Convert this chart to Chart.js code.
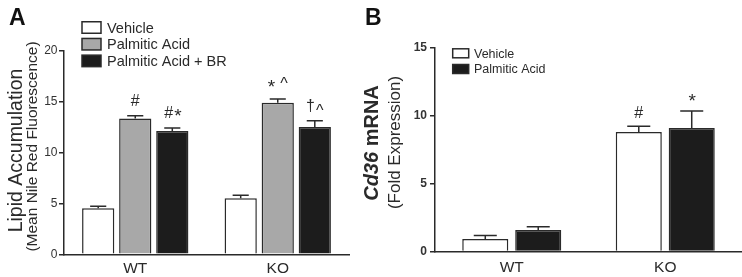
<!DOCTYPE html>
<html><head><meta charset="utf-8">
<script src="https://cdn.jsdelivr.net/npm/chart.js@4/dist/chart.umd.min.js"></script>
<style>
html,body{margin:0;padding:0;background:#fff;}
#wrap{position:relative;width:742px;height:277px;overflow:hidden;background:#fff;}
.box{position:absolute;top:0;}
canvas{display:block;}
</style></head><body>
<div id="wrap">
  <div class="box" style="left:0;width:355px;height:277px"><canvas id="ca" width="355" height="277"></canvas></div>
  <div class="box" style="left:355px;width:387px;height:277px"><canvas id="cb" width="387" height="277"></canvas></div>
</div>
<script>
// ---------- DATA ----------
const categories = ['WT', 'KO'];

// Panel A: Lipid accumulation
const seriesA = ['Vehicle', 'Palmitic Acid', 'Palmitic Acid + BR'];
const vehicleA = [4.52, 5.5];
const vehicleAErr = [0.2, 0.3];
const palmiticA = [13.35, 14.88];
const palmiticAErr = [0.25, 0.37];
const palmiticBRA = [12.1, 12.5];
const palmiticBRAErr = [0.3, 0.62];
const vehicleAMarks = ['', ''];
const palmiticAMarks = ['#', '* ^'];
const palmiticBRAMarks = ['#*', '†^'];
const ticksA = [0, 5, 10, 15, 20];

// Panel B: Cd36 mRNA
const seriesB = ['Vehicle', 'Palmitic Acid'];
const vehicleB = [0.93, 8.8];
const vehicleBErr = [0.25, 0.42];
const palmiticB = [1.58, 9.1];
const palmiticBErr = [0.25, 1.25];
const vehicleBMarks = ['', '#'];
const palmiticBMarks = ['', '*'];
const ticksB = [0, 5, 10, 15];

// ---------- STYLE ----------
const FONT = '"Liberation Sans", Arial, Helvetica, sans-serif';
const INK = '#2a2a2a';
const WHITE = '#ffffff', GRAY = '#a8a8a8', BLACK = '#1c1c1c';

// error bars + significance marks
const errorPlugin = {
  id: 'errorBars',
  afterDatasetsDraw(chart) {
    const ctx = chart.ctx, ys = chart.scales.y;
    chart.data.datasets.forEach((ds, i) => {
      const meta = chart.getDatasetMeta(i);
      meta.data.forEach((bar, j) => {
        const top = ys.getPixelForValue(ds.data[j] + ds.errors[j]);
        const capW = bar.width * 0.5;
        ctx.save();
        ctx.strokeStyle = INK; ctx.lineWidth = 1.5;
        ctx.beginPath();
        ctx.moveTo(bar.x, bar.y); ctx.lineTo(bar.x, top);
        ctx.moveTo(bar.x - capW / 2, top); ctx.lineTo(bar.x + capW / 2, top);
        ctx.stroke();
        const mark = ds.marks[j];
        if (mark) {
          ctx.fillStyle = INK;
          ctx.font = '16px ' + FONT;
          ctx.textBaseline = 'alphabetic';
          const chars = Array.from(mark);
          const widths = chars.map(c => ctx.measureText(c).width);
          const gap = 1;
          const total = widths.reduce((a, b) => a + b, 0) + gap * (chars.length - 1);
          let x = bar.x - total / 2;
          const base = top - chart.options.markGap;
          chars.forEach((c, k) => {
            let dy = 0;
            if (c === '^' && chars[k - 1] === '†') dy = 5;
            if (c === '*') { ctx.font = '19px ' + FONT; dy = 4; } else ctx.font = '16px ' + FONT;
            ctx.fillText(c, x, base + dy);
            x += widths[k] + gap;
          });
        }
        ctx.restore();
      });
    });
  }
};

// custom legend + axis titles + panel letter
const decorPlugin = {
  id: 'decor',
  afterDraw(chart) {
    const ctx = chart.ctx, d = chart.options.decor;
    ctx.save();
    // legend
    chart.data.datasets.forEach((ds, i) => {
      const y = d.legend.y0 + i * d.legend.pitch;
      ctx.fillStyle = ds.backgroundColor;
      ctx.fillRect(d.legend.x, y - d.legend.h / 2, d.legend.w, d.legend.h);
      ctx.strokeStyle = INK; ctx.lineWidth = 1.5;
      ctx.strokeRect(d.legend.x, y - d.legend.h / 2, d.legend.w, d.legend.h);
      ctx.fillStyle = INK;
      ctx.font = d.legend.font;
      ctx.textAlign = 'left'; ctx.textBaseline = 'middle';
      ctx.fillText(ds.label, d.legend.tx, y + 1);
    });
    // panel letter
    ctx.fillStyle = '#111';
    ctx.font = 'bold 23px ' + FONT;
    ctx.textAlign = 'left'; ctx.textBaseline = 'alphabetic';
    ctx.fillText(d.letter.text, d.letter.x, d.letter.y);
    // rotated titles (parts allow mixed styles)
    d.titles.forEach(t => {
      ctx.save();
      ctx.translate(t.x, t.y);
      ctx.rotate(-Math.PI / 2);
      ctx.textBaseline = 'middle'; ctx.textAlign = 'left';
      ctx.fillStyle = INK;
      const widths = t.parts.map(p => { ctx.font = p.font; return ctx.measureText(p.text).width; });
      let x = -widths.reduce((a, b) => a + b, 0) / 2;
      t.parts.forEach((p, k) => { ctx.font = p.font; ctx.fillText(p.text, x, 0); x += widths[k]; });
      ctx.restore();
    });
    ctx.restore();
  }
};

function barDs(label, data, errors, marks, color) {
  return { label, data, errors, marks, backgroundColor: color, borderColor: INK, borderWidth: 1.5, borderSkipped: 'bottom' };
}

function makeChart(canvas, cfg) {
  return new Chart(canvas, {
    type: 'bar',
    data: { labels: categories, datasets: cfg.datasets },
    plugins: [errorPlugin, decorPlugin],
    options: {
      responsive: false,
      animation: false,
      events: [],
      markGap: cfg.markGap,
      decor: cfg.decor,
      layout: { padding: { top: cfg.top, right: cfg.right, left: 0, bottom: 0 } },
      plugins: { legend: { display: false }, tooltip: { enabled: false }, title: { display: false } },
      datasets: { bar: { categoryPercentage: cfg.cp, barPercentage: cfg.bp } },
      scales: {
        x: {
          grid: { display: false, drawTicks: false, tickLength: 0 },
          border: { display: true, color: INK, width: 1.5 },
          ticks: { color: INK, font: { family: FONT, size: 15.5 }, padding: cfg.xPad },
          afterFit: s => { s.height = cfg.xHeight; }
        },
        y: {
          min: 0, max: cfg.max,
          afterBuildTicks: s => { s.ticks = cfg.ticks.map(v => ({ value: v })); },
          grid: { display: true, drawOnChartArea: false, drawTicks: true, tickLength: 5, color: INK, lineWidth: 1.5 },
          border: { display: true, color: INK, width: 1.5 },
          ticks: { color: '#333', font: cfg.yFont, padding: cfg.yPad },
          afterFit: s => { s.width = cfg.yWidth; }
        }
      }
    }
  });
}

makeChart(document.getElementById('ca'), {
  datasets: [
    barDs(seriesA[0], vehicleA, vehicleAErr, vehicleAMarks, WHITE),
    barDs(seriesA[1], palmiticA, palmiticAErr, palmiticAMarks, GRAY),
    barDs(seriesA[2], palmiticBRA, palmiticBRAErr, palmiticBRAMarks, BLACK)
  ],
  max: 20, ticks: ticksA,
  top: 50.7, right: 6, xHeight: 22.7, yWidth: 64, xPad: 5, yPad: 1.5,
  cp: 0.78, bp: 0.87, markGap: 10,
  yFont: { family: FONT, size: 12 },
  decor: {
    legend: { x: 82, w: 19, h: 11.5, y0: 27.5, pitch: 16.7, tx: 107, font: '14.5px ' + FONT },
    letter: { text: 'A', x: 9, y: 25 },
    titles: [
      { x: 17, y: 150.5, parts: [{ text: 'Lipid Accumulation', font: '19.5px ' + FONT }] },
      { x: 32.5, y: 146.5, parts: [{ text: '(Mean Nile Red Fluorescence)', font: '15.5px ' + FONT }] }
    ]
  }
});

makeChart(document.getElementById('cb'), {
  datasets: [
    barDs(seriesB[0], vehicleB, vehicleBErr, vehicleBMarks, WHITE),
    barDs(seriesB[1], palmiticB, palmiticBErr, palmiticBMarks, BLACK)
  ],
  max: 15, ticks: ticksB,
  top: 47.7, right: 0, xHeight: 25.4, yWidth: 80, xPad: 7, yPad: 3,
  cp: 0.69, bp: 0.87, markGap: 8,
  yFont: { family: FONT, size: 12, weight: 'bold' },
  decor: {
    legend: { x: 97.7, w: 16, h: 9, y0: 53.3, pitch: 15.7, tx: 119, font: '12.5px ' + FONT },
    letter: { text: 'B', x: 10, y: 25 },
    titles: [
      { x: 17.5, y: 143, parts: [{ text: 'Cd36', font: 'italic bold 20px ' + FONT }, { text: ' mRNA', font: 'bold 20px ' + FONT }] },
      { x: 40, y: 142.5, parts: [{ text: '(Fold Expression)', font: '17px ' + FONT }] }
    ]
  }
});
</script>
</body></html>
